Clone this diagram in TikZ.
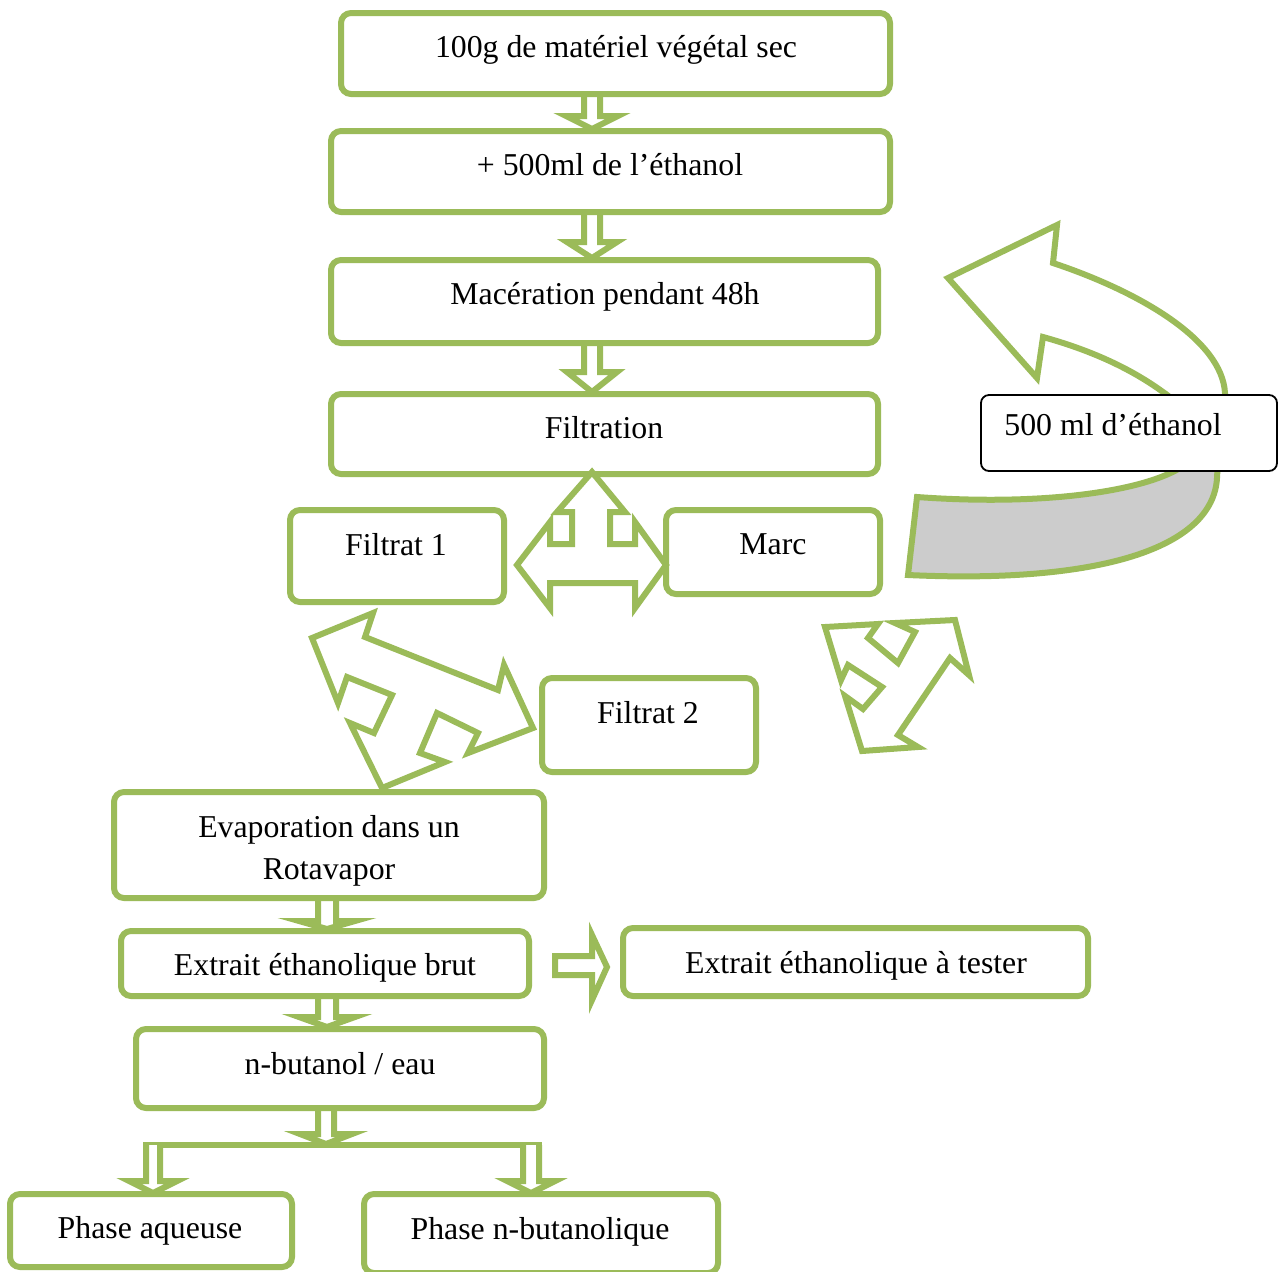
\documentclass[tikz,border=0pt]{standalone}
\usepackage{fontspec}
\setmainfont{Liberation Serif}
\usetikzlibrary{fit}
\definecolor{olivegreen}{HTML}{9BBB59}
\newcommand\dnarrow[6]{\draw[blk] (#1-#5,#2) -- (#1-#5,#3) -- (#1-#6,#3) -- (#1,#4) -- (#1+#6,#3) -- (#1+#5,#3) -- (#1+#5,#2);}
\begin{document}
\begin{tikzpicture}[x=0.5pt,y=-0.5pt,
  box/.style={draw=olivegreen,line width=3pt,rounded corners=5pt,inner sep=0pt},
  lbl/.style={draw=black,line width=0.9pt,rounded corners=4pt,inner sep=0pt,fill=white},
  txt/.style={font=\fontsize{15.9}{20}\selectfont,anchor=base,inner sep=0pt},
  blk/.style={draw=olivegreen,line width=3pt,fill=white,line join=miter,miter limit=10}]
\useasboundingbox (0,0) rectangle (1280,1271);

% curved return arrow
\def\curvedpath{(917,497) .. controls (1040,506) and (1140,492) .. (1180,468)
  .. controls (1198,440) and (1190,410) .. (1163,392)
  .. controls (1130,368) and (1090,350) .. (1043,337)
  -- (1037,378) -- (948,278) -- (1057,225) -- (1053,263)
  .. controls (1140,292) and (1222,340) .. (1225,393)
  .. controls (1228,430) and (1218,450) .. (1217,478)
  .. controls (1213,548) and (1100,584) .. (908,575) -- cycle}
\fill[white] \curvedpath;
\begin{scope}
  \clip (890,471) rectangle (1240,600);
  \fill[gray!40] \curvedpath;
\end{scope}
\draw[blk,fill=none] \curvedpath;
\node[lbl,fit={(981,395) (1277,471)}] (lab) {};
\node[txt] (tlab) at (1113,435) {500 ml d’éthanol};

% straight down arrows
\dnarrow{592}{94}{116}{129}{8}{26}
\dnarrow{592}{212}{242}{258}{8}{25}
\dnarrow{592}{343}{372}{392}{8}{25}
\dnarrow{327}{898}{921}{929}{9}{28}
\dnarrow{327}{996}{1017}{1027}{9}{28}
\dnarrow{326}{1108}{1134}{1144}{8}{26}
\draw[olivegreen,line width=3pt,line cap=rect] (146,1145) -- (539,1145);
\dnarrow{153}{1145}{1181}{1193}{7}{24}
\dnarrow{531}{1145}{1181}{1193}{8}{24}

% right arrow
\draw[blk] (555,956) -- (592,956) -- (592,935) -- (607,967) -- (592,1000) -- (592,975) -- (555,975) -- cycle;

% T arrow below Filtration
\draw[blk] (592,472) -- (625,512) -- (610,512) -- (610,544) -- (635,544) -- (635,522) -- (666,565) -- (635,608) -- (635,583) -- (550,583) -- (550,608) -- (517,565) -- (550,522) -- (550,544) -- (572,544) -- (572,512) -- (557,512) -- cycle;

% diagonal T arrow
\draw[blk] (312,638) -- (373,613) -- (365,637) -- (498,690) -- (504,665) -- (533,728) -- (468,753) -- (478,733) -- (437,713) -- (420,753) -- (445,762) -- (382,788) -- (350,723) -- (374,733) -- (392,695) -- (347,677) -- (338,703) -- cycle;

% Y arrow right
\draw[blk] (825,627) -- (878,624) -- (868,638) -- (898,663) -- (915,632) -- (895,623) -- (955,620) -- (969,675) -- (950,658) -- (898,735) -- (918,747) -- (862,751) -- (845,696) -- (863,709) -- (882,687) -- (848,665) -- (841,680) -- cycle;

% boxes
\node[box,fit={(341,13) (890,94)}] (b1) {};
\node[box,fit={(331,131) (890,212)}] (b2) {};
\node[box,fit={(331,260) (878,343)}] (b3) {};
\node[box,fit={(331,394) (878,474)}] (b4) {};
\node[box,fit={(290,510) (504,602)}] (b5) {};
\node[box,fit={(666,510) (880,594)}] (b6) {};
\node[box,fit={(542,678) (756,772)}] (b7) {};
\node[box,fit={(114,792) (544,898)}] (b8) {};
\node[box,fit={(121,931) (529,996)}] (b9) {};
\node[box,fit={(623,928) (1088,996)}] (b10) {};
\node[box,fit={(136,1029) (544,1108)}] (b11) {};
\node[box,fit={(10,1194) (292,1267)}] (b12) {};
\node[box,fit={(364,1194) (718,1273)}] (b13) {};

% texts
\node[txt] (t1) at (616,57) {100g de matériel végétal sec};
\node[txt] (t2) at (610,175) {+ 500ml de l’éthanol};
\node[txt] (t3) at (605,304) {Macération pendant 48h};
\node[txt] (t4) at (604,438) {Filtration};
\node[txt] (t5) at (396,555) {Filtrat 1};
\node[txt] (t6) at (773,554) {Marc};
\node[txt] (t7) at (648,723) {Filtrat 2};
\node[txt] (t8a) at (329,837) {Evaporation dans un};
\node[txt] (t8b) at (329,879) {Rotavapor};
\node[txt] (t9) at (325,975) {Extrait éthanolique brut};
\node[txt] (t10) at (856,973) {Extrait éthanolique à tester};
\node[txt] (t11) at (340,1074) {n-butanol / eau};
\node[txt] (t12) at (150,1238) {Phase aqueuse};
\node[txt] (t13) at (540,1239) {Phase n-butanolique};
\end{tikzpicture}
\end{document}
